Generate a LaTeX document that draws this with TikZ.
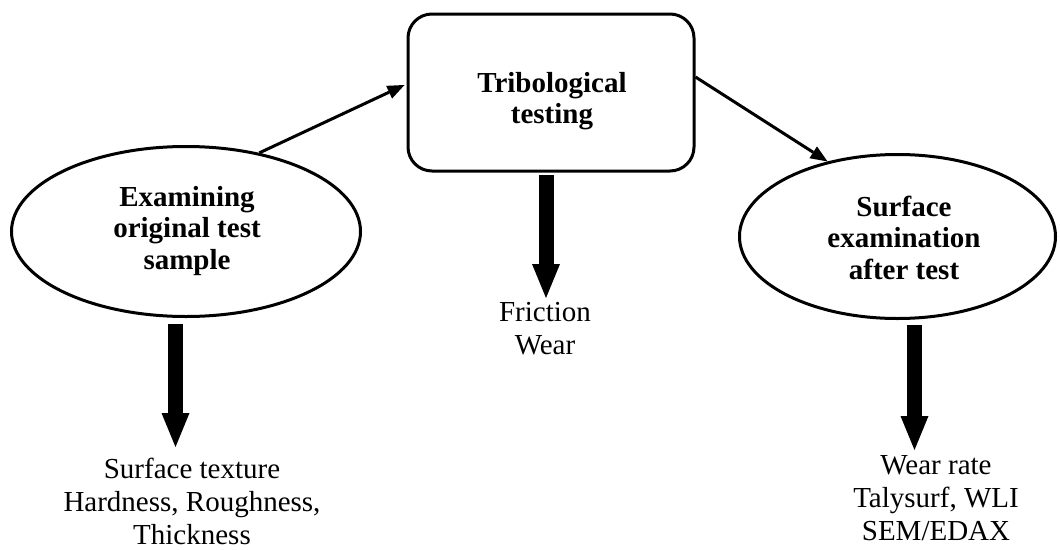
\documentclass[tikz,border=0pt]{standalone}
\usepackage{fontspec}
\setmainfont{Liberation Serif}
\usetikzlibrary{shapes.geometric,arrows.meta,calc}
\begin{document}
\begin{tikzpicture}[x=1pt,y=-1pt,
  outline/.style={draw=black, line width=3pt, fill=white},
  stage/.style={outline, ellipse, inner sep=0pt},
  boxstage/.style={outline, rounded corners=24pt, inner sep=0pt,
    minimum width=286pt, minimum height=157pt},
  title/.style={font=\bfseries\fontsize{29}{31.5}\selectfont, align=center,
    anchor=base, inner sep=0pt},
  result/.style={font=\fontsize{29}{33}\selectfont, align=center,
    anchor=base, inner sep=0pt},
  flow/.style={line width=3pt, -{Triangle[length=17pt,width=14pt,line width=0pt]}},
  output/.style={line width=15pt, -{Triangle[length=34pt,width=28pt,line width=0pt]}}]
\useasboundingbox (0,0) rectangle (1060,549);

% process stages
\node[stage, minimum width=349pt, minimum height=170pt] (orig) at (186,231.5) {};
\node[boxstage] (tribo) at (551,92.5) {};
\node[stage, minimum width=316pt, minimum height=164pt] (post) at (897.5,236.5) {};

% stage titles (anchored on the baseline of the last line)
\node[title] (origtxt) at (187,269) {Examining\\original test\\sample};
\node[title] (tribotxt) at (552,123.5) {Tribological\\testing};
\node[title] (posttxt) at (904,279) {Surface\\examination\\after test};

% measured quantities
\node[result] (origres) at (192,544) {Surface texture\\Hardness, Roughness,\\Thickness};
\node[result] (tribores) at (545,354) {Friction\\Wear};
\node[result] (postres) at (936,540) {Wear rate\\Talysurf, WLI\\SEM/EDAX};

% flow between stages
\draw[flow] (orig.47) -- ($(tribo.west)+(-2,-7.5)$);
\draw[flow] ($(tribo.east)+(0,-15.5)$) -- (post.133);

% outputs of each stage
\coordinate (o1) at (175.5,324);  \coordinate (o2) at (175.5,447);
\coordinate (t1) at (546,175);    \coordinate (t2) at (546,298);
\coordinate (p1) at (914.5,325);  \coordinate (p2) at (914.5,450);
\draw[output] (o1) -- (o2);
\draw[output] (t1) -- (t2);
\draw[output] (p1) -- (p2);
\end{tikzpicture}
\end{document}
